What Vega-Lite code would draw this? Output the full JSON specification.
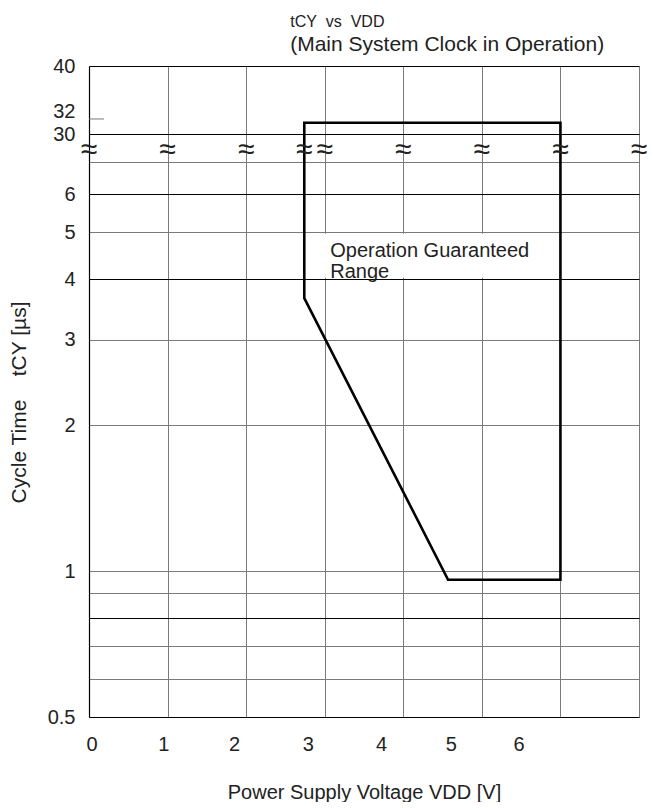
{
  "$schema": "https://vega.github.io/schema/vega-lite/v6.json",
  "padding": {"left": 8, "top": 14, "right": 0, "bottom": 0},
  "background": "white",
  "title": {
    "text": "tCY\u00a0\u00a0vs\u00a0\u00a0VDD",
    "subtitle": "(Main System Clock in Operation)",
    "anchor": "start",
    "dx": 282,
    "fontSize": 16,
    "fontWeight": "normal",
    "font": "Liberation Sans",
    "color": "#222",
    "subtitleFont": "Liberation Sans",
    "subtitleFontSize": 21,
    "subtitleColor": "#222",
    "subtitlePadding": 4,
    "offset": 1
  },
  "datasets": {
    "region_top": [
      {"i": 1, "vdd": 2.74, "tcy": 20},
      {"i": 2, "vdd": 2.74, "tcy": 31.5},
      {"i": 3, "vdd": 6.0, "tcy": 31.5},
      {"i": 4, "vdd": 6.0, "tcy": 20}
    ],
    "region_low": [
      {"i": 1, "vdd": 2.74, "tcy": 10},
      {"i": 2, "vdd": 2.74, "tcy": 3.66},
      {"i": 3, "vdd": 4.57, "tcy": 0.96},
      {"i": 4, "vdd": 6.0, "tcy": 0.96},
      {"i": 5, "vdd": 6.0, "tcy": 10}
    ],
    "breaks": [
      {"vdd": 0, "tcy": 7.4}, {"vdd": 1, "tcy": 7.4}, {"vdd": 2, "tcy": 7.4},
      {"vdd": 2.74, "tcy": 7.4}, {"vdd": 3, "tcy": 7.4}, {"vdd": 4, "tcy": 7.4},
      {"vdd": 5, "tcy": 7.4}, {"vdd": 6, "tcy": 7.4}, {"vdd": 7, "tcy": 7.4}
    ],
    "tick32": [{"vdd": 0, "vdd2": 0.19, "tcy": 32}],
    "note": [
      {"vdd": 2.9, "vdd2": 5.8, "tcy": 4.03, "tcy2": 4.97, "lv": 3.07, "lt": 4.45, "label": "Operation Guaranteed\nRange"}
    ]
  },
  "config": {
    "view": {"stroke": null},
    "axis": {
      "labelFont": "Liberation Sans",
      "labelFontSize": 20,
      "labelColor": "#222",
      "titleFont": "Liberation Sans",
      "titleFontSize": 20,
      "titleFontWeight": "normal",
      "titleColor": "#222",
      "domainColor": "black",
      "domainWidth": 1.2,
      "gridColor": "#7a7a7a",
      "gridWidth": 1,
      "gridOpacity": 1,
      "ticks": false
    }
  },
  "spacing": 0,
  "bounds": "flush",
  "vconcat": [
    {
      "width": 550,
      "height": 84,
      "layer": [
        {
          "data": {"name": "region_top"},
          "mark": {"type": "line", "color": "black", "strokeWidth": 2.6, "clip": true, "strokeJoin": "miter", "strokeCap": "butt"},
          "encoding": {
            "x": {"field": "vdd", "type": "quantitative",
                  "scale": {"domain": [0, 7], "nice": false, "zero": false},
                  "axis": {"values": [0, 1, 2, 3, 4, 5, 6, 7], "grid": true, "labels": false, "domain": false, "title": null,
                           "labelPadding": 0, "minExtent": 0, "maxExtent": 0}},
            "y": {"field": "tcy", "type": "quantitative",
                  "scale": {"type": "log", "domain": [28.08, 40], "nice": false},
                  "axis": {"values": [30, 32, 40], "format": "~g", "grid": true, "labelPadding": 14, "title": null, "labelOverlap": false,
                           "labelOffset": {"condition": {"test": "datum.value == 32", "value": -7}, "value": 0},
                           "gridColor": {"condition": {"test": "datum.value == 32", "value": "transparent"}, "value": "black"}}},
            "order": {"field": "i", "type": "quantitative"}
          }
        },
        {
          "data": {"name": "tick32"},
          "mark": {"type": "rule", "color": "#7a7a7a", "strokeWidth": 1},
          "encoding": {
            "x": {"field": "vdd", "type": "quantitative"},
            "x2": {"field": "vdd2"},
            "y": {"field": "tcy", "type": "quantitative"}
          }
        }
      ]
    },
    {
      "width": 550,
      "height": 567,
      "resolve": {"axis": {"x": "independent"}},
      "layer": [
        {
          "data": {"name": "note"},
          "mark": {"type": "rect", "color": "white"},
          "encoding": {
            "x": {"field": "vdd", "type": "quantitative", "scale": {"domain": [0, 7], "nice": false, "zero": false}, "axis": null},
            "x2": {"field": "vdd2"},
            "y": {"field": "tcy", "type": "quantitative", "scale": {"type": "log", "domain": [0.5, 7.4], "nice": false}},
            "y2": {"field": "tcy2"}
          }
        },
        {
          "data": {"name": "region_low"},
          "mark": {"type": "line", "color": "black", "strokeWidth": 2.6, "clip": true, "strokeJoin": "miter", "strokeCap": "butt"},
          "encoding": {
            "x": {"field": "vdd", "type": "quantitative",
                  "axis": {"orient": "bottom", "values": [0, 1, 2, 3, 4, 5, 6, 7], "grid": true, "labels": false, "domain": true, "title": null}},
            "y": {"field": "tcy", "type": "quantitative",
                  "axis": {"values": [0.5, 0.6, 0.7, 0.8, 0.9, 1, 2, 3, 4, 5, 6, 7], "format": "~g", "grid": true,
                           "labelExpr": "indexof([0.5, 1, 2, 3, 4, 5, 6], datum.value) >= 0 ? datum.label : ''",
                           "gridColor": {"condition": {"test": "datum.value == 0.8 || datum.value == 4 || datum.value == 6", "value": "black"}, "value": "#7a7a7a"},
                           "labelPadding": 14,
                           "title": "Cycle Time\u00a0\u00a0\u00a0\u00a0tCY [µs]", "titleFontSize": 21, "titlePadding": 18, "titleY": 252}},
            "order": {"field": "i", "type": "quantitative"}
          }
        },
        {
          "data": {"name": "note"},
          "mark": {"type": "text", "align": "left", "baseline": "alphabetic", "font": "Liberation Sans", "fontSize": 20, "lineHeight": 21, "lineBreak": "\n", "color": "#222"},
          "encoding": {
            "x": {"field": "lv", "type": "quantitative",
                  "axis": {"orient": "bottom", "values": [0.034, 0.946, 1.846, 2.785, 3.718, 4.606, 5.467],
                           "labelExpr": "format(round(datum.value / 0.9054), 'd')",
                           "grid": false, "domain": false, "labelPadding": 17,
                           "title": "Power Supply Voltage VDD [V]", "titlePadding": 28}},
            "y": {"field": "lt", "type": "quantitative"},
            "text": {"field": "label"}
          }
        },
        {
          "data": {"name": "breaks"},
          "mark": {"type": "text", "text": "≈", "font": "Liberation Sans", "fontSize": 30, "baseline": "middle", "align": "center", "color": "#222"},
          "encoding": {
            "x": {"field": "vdd", "type": "quantitative", "axis": null},
            "y": {"field": "tcy", "type": "quantitative"}
          }
        }
      ]
    }
  ]
}
